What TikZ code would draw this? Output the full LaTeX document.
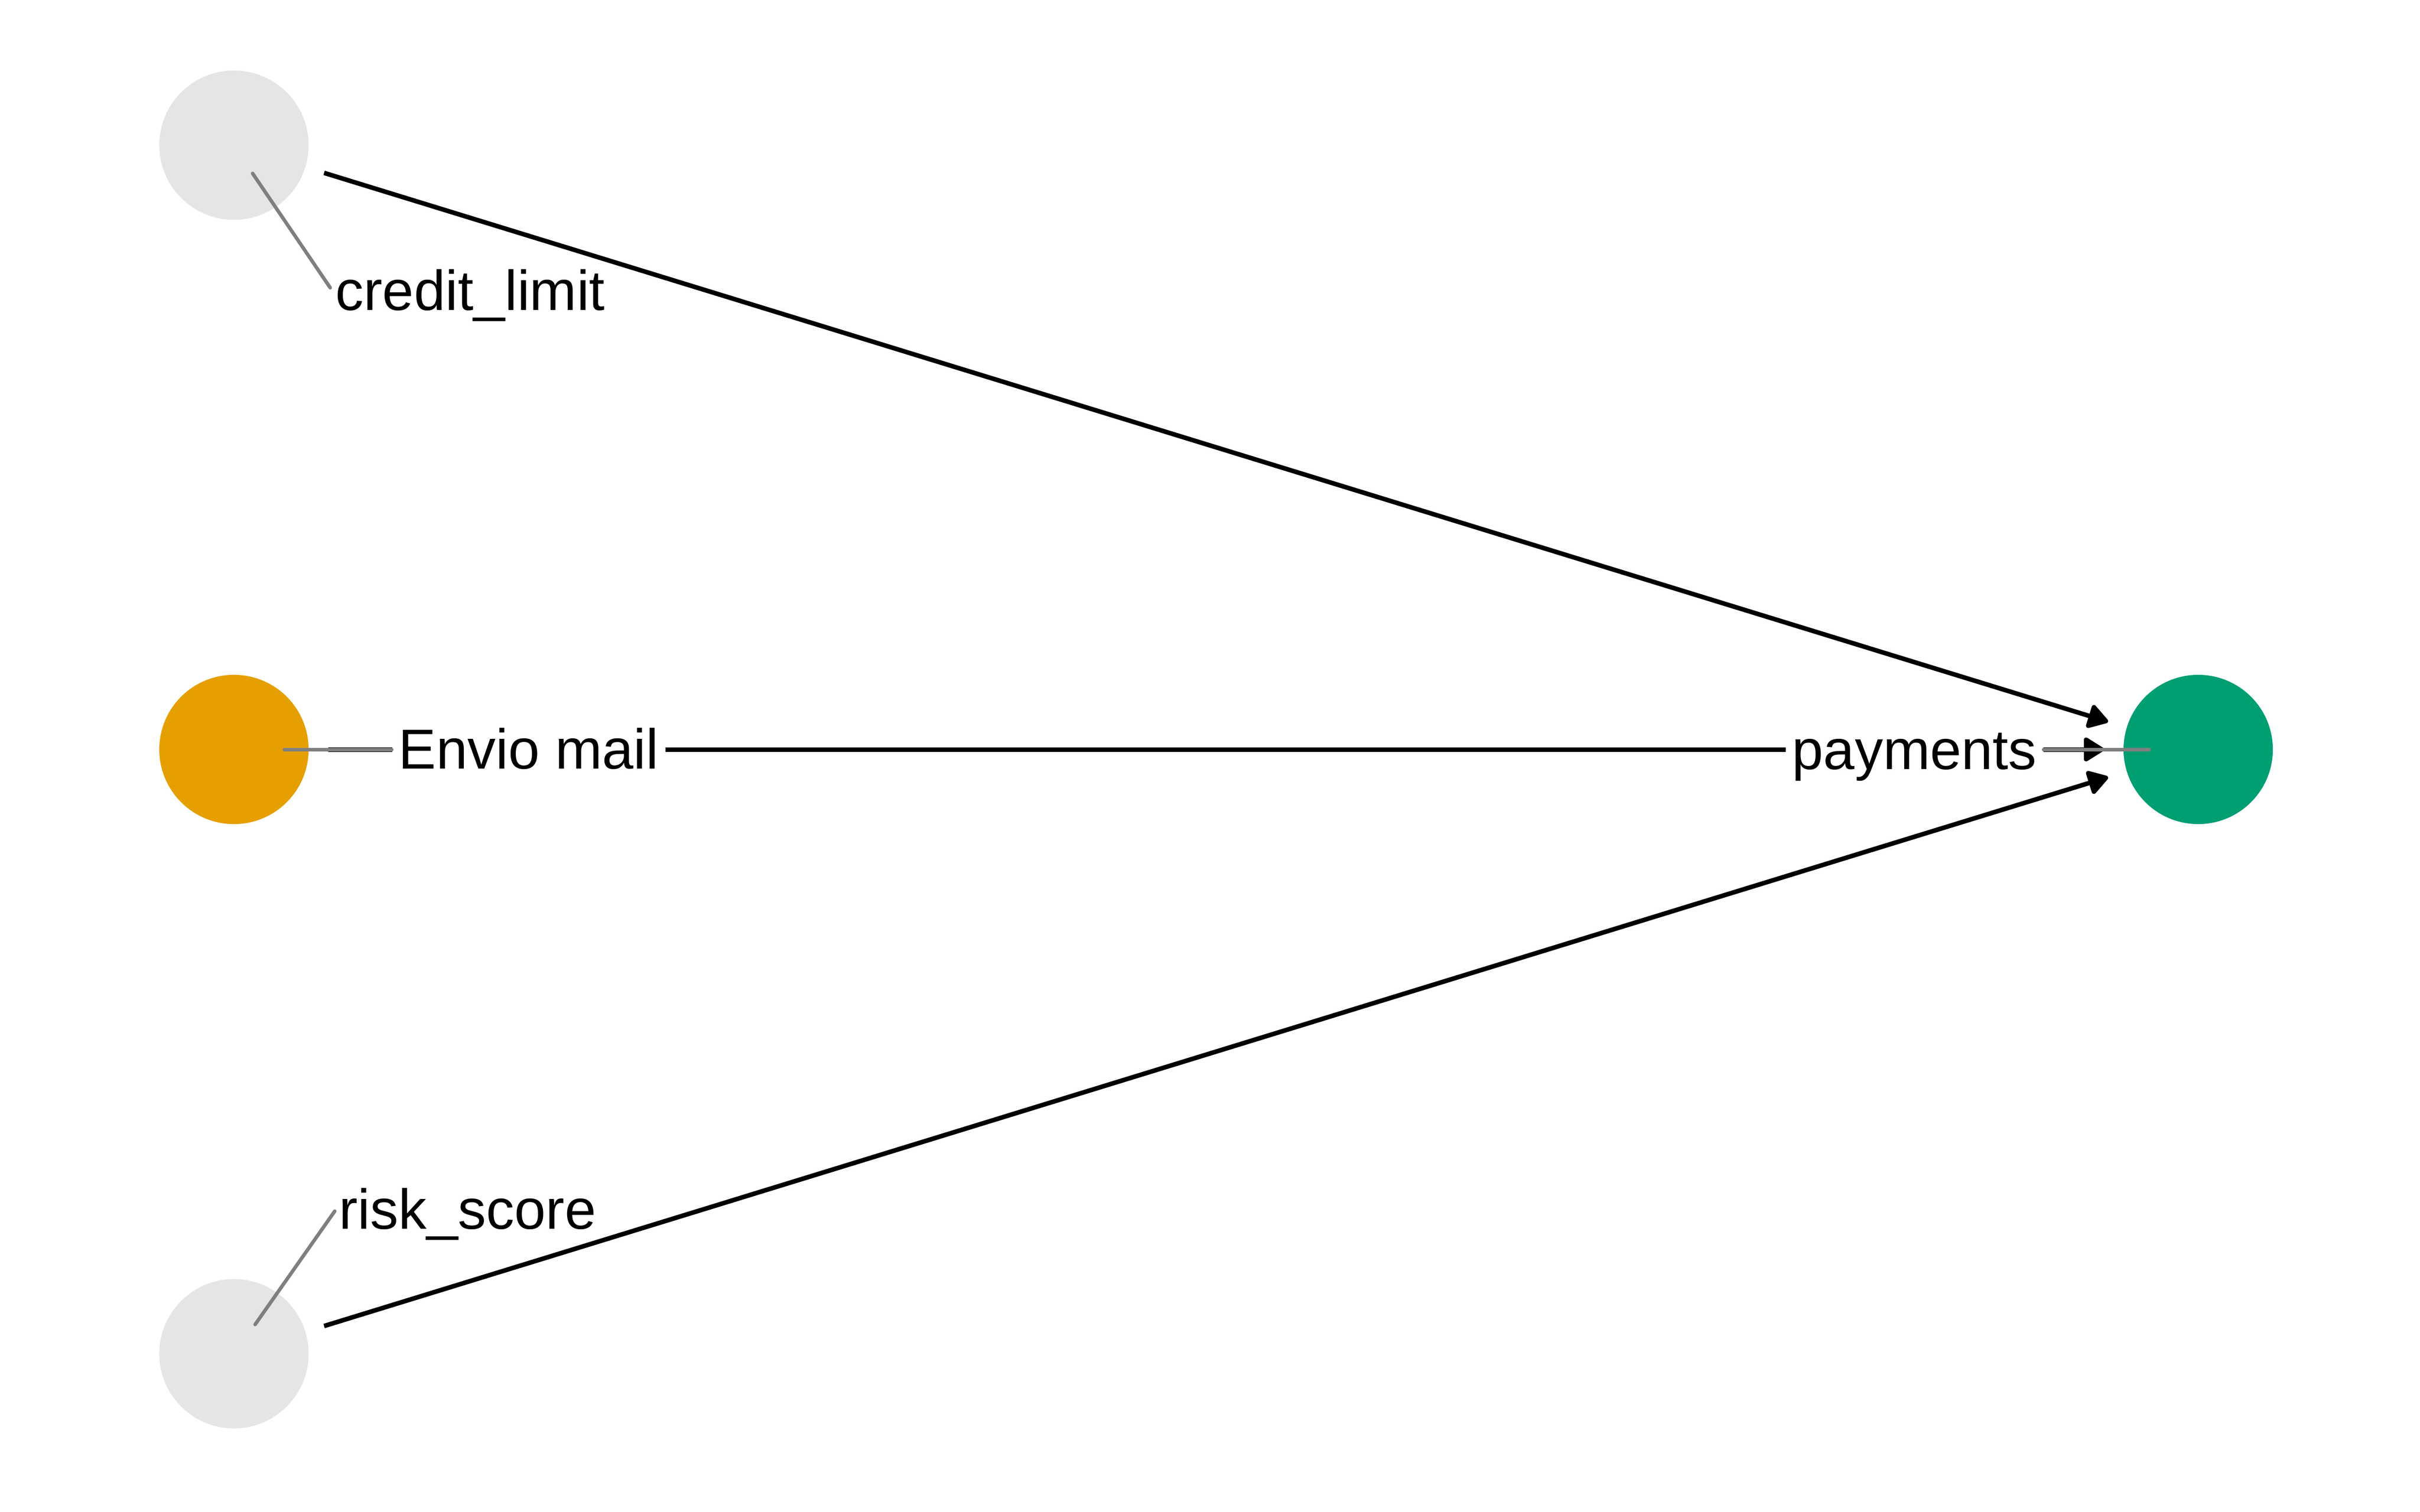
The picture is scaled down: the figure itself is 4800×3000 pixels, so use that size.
\documentclass[tikz,border=0pt]{standalone}
\usepackage{fontspec}
\setmainfont{Liberation Sans}
\usetikzlibrary{arrows.meta,positioning}
\definecolor{latentgrey}{HTML}{E5E5E5}
\definecolor{exposure}{HTML}{E69F00}
\definecolor{outcome}{HTML}{009E73}
\definecolor{leadgrey}{HTML}{7F7F7F}

\begin{document}
\begin{tikzpicture}[x=0.01cm,y=-0.01cm,
  var/.style={circle,minimum size=2.96cm,inner sep=0pt,outer sep=0.39cm},
  lab/.style={inner xsep=0.13cm,inner ysep=0.05cm,anchor=base west,
    font=\fontsize{31.8}{38}\selectfont},
  arr/.style={-{Triangle[length=0.44cm,width=0.52cm,round]},line width=0.09cm},
  lead/.style={leadgrey,line width=0.07cm,line cap=round}]
\useasboundingbox (0,0) rectangle (4800,3000);
\node[var,fill=latentgrey] (cl) at (464,288) {};
\node[var,fill=exposure] (em) at (464,1487) {};
\node[var,fill=latentgrey] (rs) at (464,2686) {};
\node[var,fill=outcome] (pay) at (4360,1487) {};
\path[arr] (cl) edge (pay);
\path[arr] (em) edge (pay);
\path[arr] (rs) edge (pay);
% repelled labels
\node[lab] (cllab) at (652,615) {credit\_limit};
\node[lab,fill=white] (emlab) at (777,1525) {Envio mail};
\node[lab,fill=white] (paylab) at (3541,1526) {payments};
\node[lab] (rslab) at (659,2438) {risk\_score};
\coordinate (clin) at (501,344);
\coordinate (clout) at (655,571);
\coordinate (emin) at (564,1487);
\coordinate (payin) at (4263,1487);
\coordinate (rsin) at (506,2628);
\coordinate (rsout) at (664,2403);
\draw[lead] (clin) -- (clout);
\draw[lead] (emin) -- (emlab.west |- emin);
\draw[lead] (payin) -- (paylab.east |- payin);
\draw[lead] (rsin) -- (rsout);
\end{tikzpicture}
\end{document}
